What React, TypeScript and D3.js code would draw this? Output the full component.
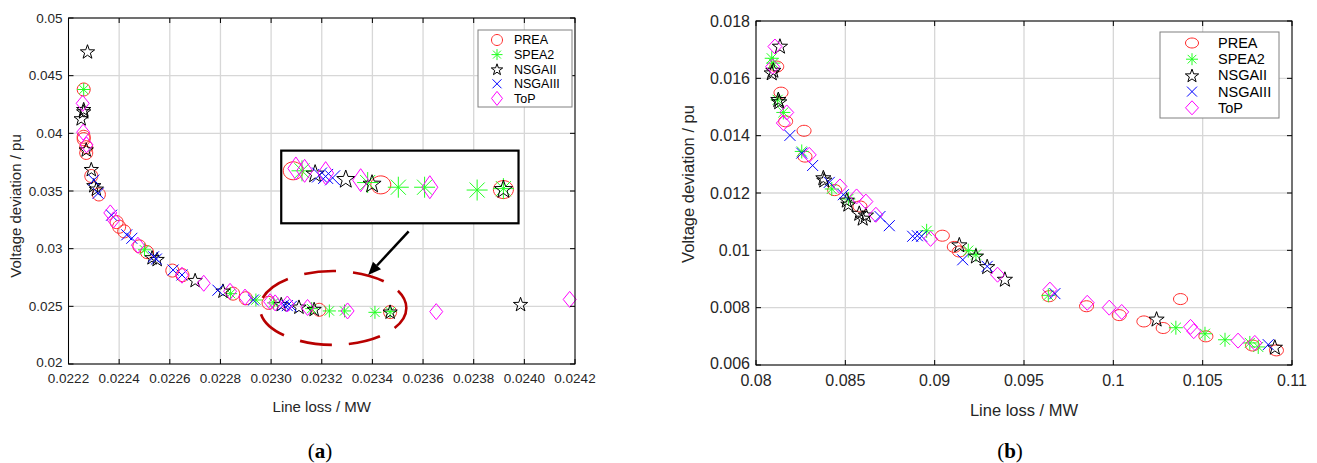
import React from 'react';
import * as d3 from 'd3';

type Pt = [number, number];

// ---- panel (a) data: line loss (MW) vs voltage deviation (pu)
const preaA: Pt[] = [
  [0.02226, 0.0438], [0.02226, 0.0397], [0.02226, 0.0395], [0.02227, 0.0388], [0.02227, 0.0383],
  [0.02229, 0.0363], [0.02232, 0.0347], [0.02239, 0.0323], [0.0224, 0.0319], [0.02242, 0.0315],
  [0.02248, 0.0302], [0.02251, 0.0297], [0.02261, 0.0281], [0.02265, 0.0277], [0.02285, 0.0261],
  [0.0229, 0.0257], [0.02299, 0.0253], [0.02319, 0.0247], [0.02347, 0.0245],
];
const spea2A: Pt[] = [
  [0.02226, 0.0438], [0.0225, 0.0299], [0.02284, 0.0261], [0.02294, 0.02555], [0.02301, 0.0253],
  [0.02316, 0.0248], [0.02323, 0.0246], [0.02329, 0.0246], [0.02341, 0.02448], [0.02347, 0.02454],
];
const nsga2A: Pt[] = [
  [0.022275, 0.0471], [0.02226, 0.0421], [0.02226, 0.0419], [0.02225, 0.0413], [0.02227, 0.0386],
  [0.02229, 0.0369], [0.0223, 0.0355], [0.02231, 0.0352], [0.02253, 0.02925], [0.02255, 0.0291],
  [0.0227, 0.02728], [0.02281, 0.02636], [0.02304, 0.0252], [0.02311, 0.02497], [0.02317, 0.02477],
  [0.02347, 0.02454], [0.023985, 0.0252],
];
const nsga3A: Pt[] = [
  [0.0223, 0.03595], [0.022317, 0.0348], [0.02237, 0.0329], [0.02243, 0.0312], [0.02245, 0.0309],
  [0.022536, 0.0293], [0.022547, 0.0291], [0.022613, 0.02815], [0.022648, 0.02772], [0.02279, 0.0264],
  [0.02293, 0.02555], [0.02305, 0.02512], [0.023064, 0.02506], [0.02308, 0.025],
];
const topA: Pt[] = [
  [0.022256, 0.0426], [0.022258, 0.0401], [0.022271, 0.039], [0.022365, 0.0331], [0.022378, 0.0325],
  [0.022474, 0.0303], [0.022648, 0.0277], [0.022734, 0.027], [0.022838, 0.0263], [0.022897, 0.0258],
  [0.022996, 0.0254], [0.023016, 0.0253], [0.023064, 0.0252], [0.023144, 0.0249], [0.023302, 0.0246],
  [0.023652, 0.02454], [0.024179, 0.0256],
];

// ---- panel (b) data
const preaB: Pt[] = [
  [0.08116, 0.01641], [0.0814, 0.0155], [0.08166, 0.0145], [0.08269, 0.01417], [0.08274, 0.01327],
  [0.0844, 0.0121], [0.08582, 0.01153], [0.09043, 0.01051], [0.0911, 0.01012], [0.09138, 0.00996],
  [0.09641, 0.0084], [0.0985, 0.00805], [0.10033, 0.00774], [0.10171, 0.00752], [0.10279, 0.00729],
  [0.10376, 0.0083], [0.10518, 0.007], [0.10779, 0.00668], [0.10913, 0.00651],
];
const spea2B: Pt[] = [
  [0.08088, 0.0167], [0.08097, 0.01653], [0.08121, 0.01525], [0.08153, 0.01481], [0.08256, 0.01345],
  [0.08424, 0.01214], [0.08517, 0.01179], [0.08955, 0.01068], [0.09188, 0.00999], [0.09231, 0.00985],
  [0.09636, 0.00843], [0.1035, 0.0073], [0.10513, 0.00709], [0.10625, 0.00688], [0.10764, 0.00677],
  [0.10811, 0.00663],
];
const nsga2B: Pt[] = [
  [0.08134, 0.01713], [0.08088, 0.0162], [0.08097, 0.01629], [0.08125, 0.01527], [0.0813, 0.01519],
  [0.08377, 0.01254], [0.08382, 0.01246], [0.08508, 0.01176], [0.08517, 0.01162], [0.08578, 0.0113],
  [0.08597, 0.01113], [0.08615, 0.01124], [0.09138, 0.0102], [0.09231, 0.00981], [0.09294, 0.00944],
  [0.09393, 0.009], [0.10242, 0.00761], [0.10904, 0.00663],
];
const nsga3B: Pt[] = [
  [0.0819, 0.01401], [0.08256, 0.01339], [0.08317, 0.01296], [0.0841, 0.01237], [0.08489, 0.01194],
  [0.08694, 0.01118], [0.08746, 0.01086], [0.08877, 0.01049], [0.08903, 0.01051], [0.08927, 0.01049],
  [0.09157, 0.00967], [0.09294, 0.00944], [0.09673, 0.00849], [0.10867, 0.00671],
];
const topB: Pt[] = [
  [0.08106, 0.01711], [0.08093, 0.01641], [0.08172, 0.01481], [0.08153, 0.01444], [0.08298, 0.01333],
  [0.0847, 0.01223], [0.08563, 0.01188], [0.08615, 0.0117], [0.08671, 0.01124], [0.08977, 0.0104],
  [0.09352, 0.00915], [0.09645, 0.00863], [0.09854, 0.00817], [0.09977, 0.008], [0.10047, 0.00785],
  [0.10432, 0.00733], [0.1045, 0.00718], [0.10698, 0.00685], [0.10792, 0.00677],
];

const seriesNames = ['PREA', 'SPEA2', 'NSGAII', 'NSGAIII', 'ToP'];
const seriesColors = ['#ff2a2a', '#22ff22', '#000000', '#0000ff', '#ff00ff'];
const seriesShapes = ['circle', 'asterisk', 'star', 'cross', 'diamond'];

const xTicksA = [0.0222, 0.0224, 0.0226, 0.0228, 0.023, 0.0232, 0.0234, 0.0236, 0.0238, 0.024, 0.0242];
const yTicksA = [0.02, 0.025, 0.03, 0.035, 0.04, 0.045, 0.05];
const xTicksB = [0.08, 0.085, 0.09, 0.095, 0.1, 0.105, 0.11];
const yTicksB = [0.006, 0.008, 0.01, 0.012, 0.014, 0.016, 0.018];

// zoomed region shown in the inset of panel (a), in data units
const zoomXA = [0.02299, 0.023468];
const zoomYA = [0.02535, 0.02454];
// ellipse around the zoomed cluster and the inset box (data units)
const ellipseA = { cx: 0.023245, cy: 0.02486, rx: 0.000289, ry: 0.0032 };
const insetBoxA = { x0: 0.02304, x1: 0.023977, y0: 0.0385, y1: 0.0322 };

const FONT = 'Liberation Sans, Arial, Helvetica, sans-serif';

type Sizes = { c: [number, number]; a: number; s: number; x: number; d: [number, number] };

function markerPath(shape: string, z: Sizes) {
  const p = d3.path();
  if (shape === 'circle') {
    const [rx, ry] = z.c;
    const n = 28;
    for (let i = 0; i <= n; i++) {
      const t = (i / n) * Math.PI * 2;
      if (i === 0) p.moveTo(rx * Math.cos(t), ry * Math.sin(t));
      else p.lineTo(rx * Math.cos(t), ry * Math.sin(t));
    }
    p.closePath();
  } else if (shape === 'asterisk') {
    const r = z.a, k = r * 0.72;
    p.moveTo(-r, 0); p.lineTo(r, 0);
    p.moveTo(0, -r); p.lineTo(0, r);
    p.moveTo(-k, -k); p.lineTo(k, k);
    p.moveTo(-k, k); p.lineTo(k, -k);
  } else if (shape === 'star') {
    const R = z.s, r = R * 0.4;
    for (let i = 0; i < 10; i++) {
      const rr = i % 2 === 0 ? R : r;
      const t = -Math.PI / 2 + (i * Math.PI) / 5;
      if (i === 0) p.moveTo(rr * Math.cos(t), rr * Math.sin(t) + R * 0.1);
      else p.lineTo(rr * Math.cos(t), rr * Math.sin(t) + R * 0.1);
    }
    p.closePath();
  } else if (shape === 'cross') {
    const r = z.x;
    p.moveTo(-r, -r); p.lineTo(r, r);
    p.moveTo(-r, r); p.lineTo(r, -r);
  } else {
    const [w, h] = z.d;
    p.moveTo(0, -h); p.lineTo(w, 0); p.lineTo(0, h); p.lineTo(-w, 0); p.closePath();
  }
  return p.toString();
}

const Markers = ({ data, x, y, z, sw = 1 }: any) => (
  <g fill="none">
    {data.map((pts: Pt[], si: number) => {
      const d = markerPath(seriesShapes[si], z);
      return (
        <g key={si} stroke={seriesColors[si]} strokeWidth={sw}>
          {pts.map((pt, i) => (
            <path key={i} d={d} transform={`translate(${x(pt[0])},${y(pt[1])})`} />
          ))}
        </g>
      );
    })}
  </g>
);

const Panel = (props: any) => {
  const { x, y, xTicks, yTicks, xFmt, yFmt, data, z, tickFs, titleFs, legend, label, labelX } = props;
  const [x0, x1] = x.range();
  const [y1, y0] = y.range();
  const tl = 5;
  return (
    <g fontFamily={FONT}>
      <rect x={x0} y={y0} width={x1 - x0} height={y1 - y0} fill="#fff" />
      <g stroke="#d7d7d7" strokeWidth={1.3}>
        {xTicks.map((t: number) => <line key={'gx' + t} x1={x(t)} x2={x(t)} y1={y0} y2={y1} />)}
        {yTicks.map((t: number) => <line key={'gy' + t} x1={x0} x2={x1} y1={y(t)} y2={y(t)} />)}
      </g>
      <Markers data={data} x={x} y={y} z={z} />
      <g stroke="#000" strokeWidth={1}>
        {xTicks.map((t: number) => (
          <g key={'tx' + t}>
            <line x1={x(t)} x2={x(t)} y1={y1} y2={y1 - tl} />
            <line x1={x(t)} x2={x(t)} y1={y0} y2={y0 + tl} />
          </g>
        ))}
        {yTicks.map((t: number) => (
          <g key={'ty' + t}>
            <line x1={x0} x2={x0 + tl} y1={y(t)} y2={y(t)} />
            <line x1={x1} x2={x1 - tl} y1={y(t)} y2={y(t)} />
          </g>
        ))}
        <rect x={x0} y={y0} width={x1 - x0} height={y1 - y0} fill="none" />
      </g>
      <g fill="#262626" fontSize={tickFs}>
        {xTicks.map((t: number) => (
          <text key={'lx' + t} x={x(t)} y={y1 + tickFs + 5} textAnchor="middle">{xFmt(t)}</text>
        ))}
        {yTicks.map((t: number) => (
          <text key={'ly' + t} x={x0 - 6} y={y(t) - (t === yTicks[0] ? 2 : 0)} dy="0.35em" textAnchor="end">{yFmt(t)}</text>
        ))}
      </g>
      <text x={(x0 + x1) / 2} y={props.xTitleY} textAnchor="middle" fontSize={titleFs} fill="#262626">
        Line loss / MW
      </text>
      <text
        transform={`translate(${props.yTitleX},${props.yTitleC}) rotate(-90)`}
        textAnchor="middle" fontSize={titleFs} fill="#262626"
      >
        Voltage deviation / pu
      </text>
      <g>
        <rect x={legend.x} y={legend.y} width={legend.w} height={legend.h} fill="#fff" stroke="#808080" strokeWidth={1} />
        {seriesNames.map((n, i) => (
          <g key={n} transform={`translate(0,${legend.y + legend.pad + i * legend.row})`}>
            <path d={markerPath(seriesShapes[i], legend.z)} transform={`translate(${legend.mx},0)`}
              fill="none" stroke={seriesColors[i]} strokeWidth={1} />
            <text x={legend.tx} y={0} dy="0.35em" fontSize={legend.fs} fill="#000">{n}</text>
          </g>
        ))}
      </g>
      <text x={labelX} y={458} textAnchor="middle" fontFamily="Liberation Serif, Times New Roman, serif" fontSize={21}>
        (<tspan fontWeight="bold">{label}</tspan>)
      </text>
    </g>
  );
};

const App = () => {
  const W = 1317, H = 463;

  const xA = d3.scaleLinear().domain([0.0222, 0.0242]).range([68.5, 575]);
  const yA = d3.scaleLinear().domain([0.02, 0.05]).range([364, 18]);
  const xB = d3.scaleLinear().domain([0.08, 0.11]).range([756, 1292]);
  const yB = d3.scaleLinear().domain([0.006, 0.018]).range([365, 21]);

  const dataA = [preaA, spea2A, nsga2A, nsga3A, topA];
  const dataB = [preaB, spea2B, nsga2B, nsga3B, topB];

  const fmt3 = (v: number) => String(+v.toFixed(3));
  const fmt4 = (v: number) => v.toFixed(4);

  // inset geometry
  const bx0 = xA(insetBoxA.x0), bx1 = xA(insetBoxA.x1);
  const by0 = yA(insetBoxA.y0), by1 = yA(insetBoxA.y1);
  const ix = d3.scaleLinear().domain(zoomXA).range([bx0 + 12, bx1 - 16]);
  const iy = d3.scaleLinear().domain(zoomYA).range([by0 + 19, by0 + 38]);
  const inside = (p: Pt) => p[0] >= zoomXA[0] - 0.00001 && p[0] <= 0.0235 && p[1] <= 0.02545;
  const insetData = dataA.map((s) => s.filter(inside));

  const ecx = xA(ellipseA.cx), ecy = yA(ellipseA.cy);
  const erx = xA(ellipseA.cx + ellipseA.rx) - ecx;
  const ery = yA(ellipseA.cy - ellipseA.ry) - ecy;

  // arrow from inset towards the ellipse
  const ax0 = bx0 + (bx1 - bx0) * 0.537, ay0 = by1 + 8;
  const ax1 = ecx + 35, ay1 = ecy - ery + 4;
  const ang = Math.atan2(ay1 - ay0, ax1 - ax0);
  const hl = 13, hw = 5.5;
  const bxh = ax1 - hl * Math.cos(ang), byh = ay1 - hl * Math.sin(ang);
  const head = [
    [ax1, ay1],
    [bxh + hw * Math.sin(ang), byh - hw * Math.cos(ang)],
    [bxh - hw * Math.sin(ang), byh + hw * Math.cos(ang)],
  ];

  const zA: Sizes = { c: [6.5, 6.5], a: 6.5, s: 7.5, x: 5.5, d: [6.5, 8] };
  const zB: Sizes = { c: [7, 5.5], a: 7, s: 8, x: 5.5, d: [7, 7.5] };
  const zI: Sizes = { c: [10, 9], a: 10.5, s: 9.5, x: 7.5, d: [8, 11.5] };

  return (
    <svg width={W} height={H} style={{ position: 'absolute', left: 0, top: 0, background: '#fff' }}>
      <rect width={W} height={H} fill="#fff" />
      <Panel
        x={xA} y={yA} xTicks={xTicksA} yTicks={yTicksA} xFmt={fmt4} yFmt={fmt3} data={dataA} z={zA}
        tickFs={13.5} titleFs={15} yTitleX={21} yTitleC={206} xTitleY={412} label="a" labelX={320}
        legend={{ x: 478, y: 30, w: 94, h: 77, pad: 10, row: 14.6, mx: 497, tx: 514, fs: 12.5, z: { c: [5.5, 5.5], a: 5.5, s: 6, x: 4.5, d: [5.5, 7] } }}
      />
      <Panel
        x={xB} y={yB} xTicks={xTicksB} yTicks={yTicksB} xFmt={fmt3} yFmt={fmt3} data={dataB} z={zB}
        tickFs={16} titleFs={16.5} yTitleX={694} yTitleC={184} xTitleY={416} label="b" labelX={1010}
        legend={{ x: 1160, y: 32, w: 119, h: 86, pad: 11, row: 16.2, mx: 1192, tx: 1218, fs: 14.5, z: { c: [6.5, 5], a: 6, s: 7, x: 5, d: [6.5, 7] } }}
      />
      {/* inset of panel (a) */}
      <rect x={bx0} y={by0} width={bx1 - bx0} height={by1 - by0} fill="#fff" stroke="#000" strokeWidth={2.2} />
      <Markers data={insetData} x={ix} y={iy} z={zI} />
      <ellipse cx={ecx} cy={ecy} rx={erx} ry={ery} fill="none" stroke="#b80000" strokeWidth={2.6}
        strokeDasharray="32 17" strokeDashoffset={8} />
      <line x1={ax0} y1={ay0} x2={bxh} y2={byh} stroke="#000" strokeWidth={2.5} />
      <polygon points={head.map((p) => p.join(',')).join(' ')} fill="#000" />
    </svg>
  );
};

export default App;
